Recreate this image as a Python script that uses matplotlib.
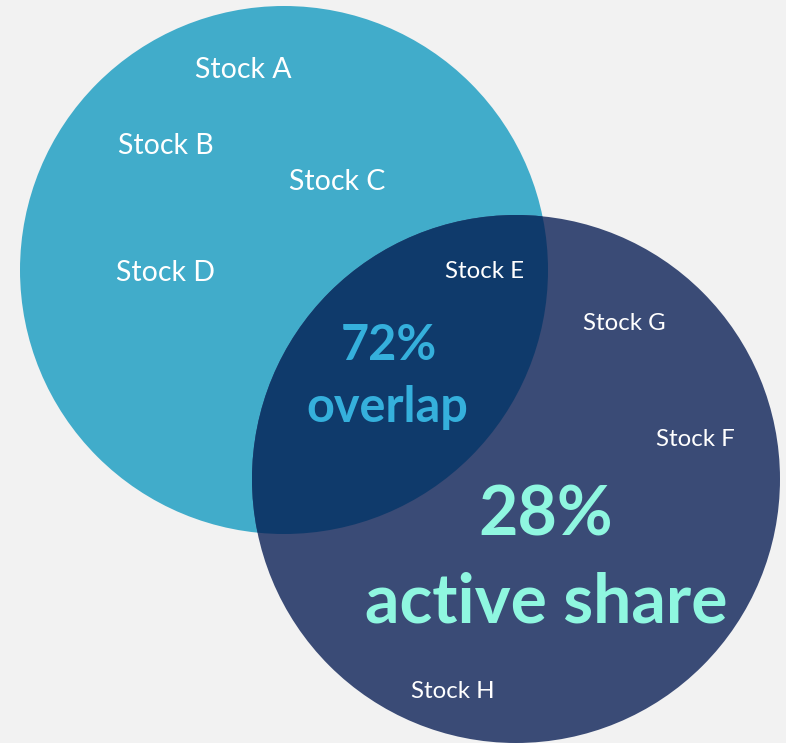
import matplotlib
matplotlib.use("Agg")
import matplotlib.pyplot as plt
from matplotlib.patches import Circle

plt.rcParams['font.family'] = ['Lato', 'DejaVu Sans']

# Data
sets = ["Benchmark", "Portfolio"]
set_centers = [(284, 270), (516, 479)]
set_radii = [264, 264]
set_colors = ["#41ACCA", "#3A4B76"]
overlap_color = "#0F3A6B"

stocks = ["Stock A", "Stock B", "Stock C", "Stock D", "Stock E", "Stock G", "Stock F", "Stock H"]
stock_x = [243, 166, 337, 166, 485, 624, 695, 453]
stock_y = [70, 146, 182, 273, 271, 323, 439, 692]
stock_sizes = [20.5, 20.5, 20.5, 20.5, 17.3, 17.3, 17.3, 17.3]

overlap_pct = 72
active_share_pct = 28

W, H = 786, 743
fig = plt.figure(figsize=(W / 100, H / 100), dpi=100)
fig.patch.set_facecolor("#F2F2F2")
ax = fig.add_axes([0, 0, 1, 1])
ax.set_xlim(0, W)
ax.set_ylim(H, 0)
ax.set_aspect('equal')
ax.axis('off')

c1 = Circle(set_centers[0], set_radii[0], facecolor=set_colors[0], edgecolor='none', zorder=1)
c2 = Circle(set_centers[1], set_radii[1], facecolor=set_colors[1], edgecolor='none', zorder=2)
ax.add_patch(c1)
ax.add_patch(c2)
# overlap region: circle 1 clipped by circle 2
c3 = Circle(set_centers[0], set_radii[0], facecolor=overlap_color, edgecolor='none', zorder=3)
ax.add_patch(c3)
clip = Circle(set_centers[1], set_radii[1], transform=ax.transData)
c3.set_clip_path(clip)

for s, x, y, fs in zip(stocks, stock_x, stock_y, stock_sizes):
    ax.text(x, y, s, color="white", fontsize=fs, ha='center', va='center', zorder=5)

ax.text(389, 345, f"{overlap_pct}%", color="#35B0DC", fontsize=35, fontweight='bold',
        ha='center', va='center', zorder=5)
ax.text(387, 408, "overlap", color="#35B0DC", fontsize=35, fontweight='bold',
        ha='center', va='center', zorder=5)
ax.text(546, 516, f"{active_share_pct}%", color="#8FF7E0", fontsize=49, fontweight='bold',
        ha='center', va='center', zorder=5)
ax.text(546, 603, "active share", color="#8FF7E0", fontsize=49, fontweight='bold',
        ha='center', va='center', zorder=5)

fig.savefig("out.png", dpi=100, facecolor=fig.get_facecolor())
